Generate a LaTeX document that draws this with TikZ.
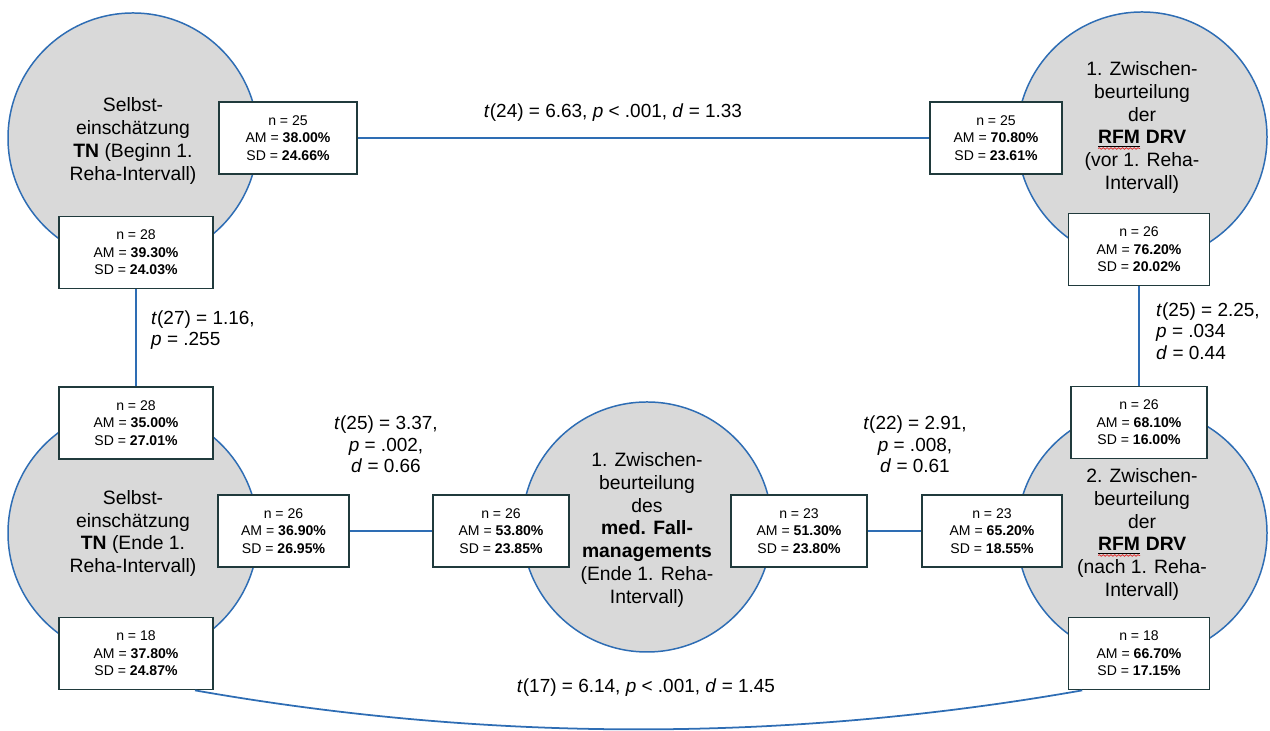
\documentclass[tikz,border=0pt]{standalone}
\usepackage{fontspec}
\setmainfont{Liberation Sans}
\usepackage{xcolor}
\usepackage{tikz}
\usetikzlibrary{
    positioning,
    calc,
    decorations.pathmorphing
}
\definecolor{phasefill}{HTML}{D9D9D9}
\definecolor{phaseborder}{HTML}{2E6DB4}
\definecolor{boxborder}{HTML}{203A3C}
\definecolor{linkblue}{HTML}{2E6DB4}
\definecolor{spellred}{HTML}{E03030}
\newcommand{\spellul}[1]{%
    \tikz[baseline=(w.base)]{%
        \node[inner sep=0pt, outer sep=0pt] (w) {#1};
        \draw[black, line width=0.5pt] ([yshift=-1.2pt]w.base west) -- ([yshift=-1.2pt]w.base east);
        \draw[spellred, line width=0.45pt, decorate,
              decoration={snake, amplitude=0.45pt, segment length=2.2pt}]
            ([yshift=-2.6pt]w.base west) -- ([yshift=-2.6pt]w.base east);}%
}
\tikzset{
    phase/.style={
        circle, draw=phaseborder, fill=phasefill,
        line width=0.85pt, minimum size=5cm, inner sep=0pt
    },
    phase text/.style={
        align=center, font=\fontsize{11}{13}\selectfont
    },
    statbox/.style={
        rectangle, draw=boxborder, fill=white,
        line width=1pt, minimum height=1.44cm,
        minimum width=#1, align=center, inner sep=1pt,
        font=\fontsize{8}{9.9}\selectfont
    },
    statbox/.default={2.72cm},
    link/.style={
        draw=linkblue, line width=1pt
    },
    test label/.style={
        font=\fontsize{10.8}{12.2}\selectfont
    },
}

\begin{document}
\begin{tikzpicture}

    \useasboundingbox (0,0) rectangle (25.4,14.62);

    % ── Phases ──
    \node[phase] (selfstart) at (2.66,11.86) {};
    \node[phase] (drvfirst)  at (22.84,11.88) {};
    \node[phase] (selfend)   at (2.66,3.96) {};
    \node[phase] (casemgmt)  at (12.94,4.08) {};
    \node[phase] (drvsecond) at (22.84,3.96) {};

    \node[phase text] (selfstarttxt) at (2.66,11.80)
        {Selbst-\\einschätzung\\\textbf{TN} (Beginn 1.\\Reha-Intervall)};
    \node[phase text] (drvfirsttxt) at (22.84,12.07)
        {1. Zwischen-\\beurteilung\\der\\\textbf{\spellul{RFM} DRV}\\(vor 1. Reha-\\Intervall)};
    \node[phase text] (selfendtxt) at (2.66,3.95)
        {Selbst-\\einschätzung\\\textbf{TN} (Ende 1.\\Reha-Intervall)};
    \node[phase text] (casemgmttxt) at (12.94,4.02)
        {1. Zwischen-\\beurteilung\\des\\\textbf{med. Fall-}\\\textbf{managements}\\(Ende 1. Reha-\\Intervall)};
    \node[phase text] (drvsecondtxt) at (22.84,3.93)
        {2. Zwischen-\\beurteilung\\der\\\textbf{\spellul{RFM} DRV}\\(nach 1. Reha-\\Intervall)};

    % ── Statistics boxes ──
    \node[statbox=2.76cm] (selfstartR) at (5.76,11.86)
        {n = 25\\AM = \textbf{38.00\%}\\SD = \textbf{24.66\%}};
    \node[statbox=3.08cm] (selfstartB) at (2.72,9.57)
        {n = 28\\AM = \textbf{39.30\%}\\SD = \textbf{24.03\%}};
    \node[statbox=2.64cm] (drvfirstL) at (19.92,11.86)
        {n = 25\\AM = \textbf{70.80\%}\\SD = \textbf{23.61\%}};
    \node[statbox=2.82cm] (drvfirstB) at (22.78,9.63)
        {n = 26\\AM = \textbf{76.20\%}\\SD = \textbf{20.02\%}};

    \node[statbox=3.08cm] (selfendT) at (2.72,6.16)
        {n = 28\\AM = \textbf{35.00\%}\\SD = \textbf{27.01\%}};
    \node[statbox=2.62cm] (selfendR) at (5.67,4.0)
        {n = 26\\AM = \textbf{36.90\%}\\SD = \textbf{26.95\%}};
    \node[statbox=3.08cm] (selfendB) at (2.72,1.55)
        {n = 18\\AM = \textbf{37.80\%}\\SD = \textbf{24.87\%}};

    \node[statbox] (casemgmtL) at (10.02,4.0)
        {n = 26\\AM = \textbf{53.80\%}\\SD = \textbf{23.85\%}};
    \node[statbox] (casemgmtR) at (15.98,4.0)
        {n = 23\\AM = \textbf{51.30\%}\\SD = \textbf{23.80\%}};

    \node[statbox=2.8cm] (drvsecondL) at (19.84,4.0)
        {n = 23\\AM = \textbf{65.20\%}\\SD = \textbf{18.55\%}};
    \node[statbox] (drvsecondT) at (22.78,6.17)
        {n = 26\\AM = \textbf{68.10\%}\\SD = \textbf{16.00\%}};
    \node[statbox=2.82cm] (drvsecondB) at (22.78,1.55)
        {n = 18\\AM = \textbf{66.70\%}\\SD = \textbf{17.15\%}};

    % ── Comparisons ──
    \draw[link] (selfstartR) -- (drvfirstL);
    \draw[link] (selfstartB) -- (selfendT);
    \draw[link] (drvfirstB) -- (drvsecondT);
    \draw[link] (selfendR) -- (casemgmtL);
    \draw[link] (casemgmtR) -- (drvsecondL);
    \draw[link] (selfendB.-32) .. controls +(5.9,-1.04) and +(-5.9,-1.04) .. (drvsecondB.-147);

    \node[test label] (testtop) at (12.26,12.36)
        {\textit{t}(24) = 6.63, \textit{p} < .001, \textit{d} = 1.33};
    \node[test label, align=left, anchor=west] (testleft) at (2.90,8.02)
        {\textit{t}(27) = 1.16,\\\textit{p} = .255};
    \node[test label, align=left, anchor=west] (testright) at (23.0,8.0)
        {\textit{t}(25) = 2.25,\\\textit{p} = .034\\\textit{d} = 0.44};
    \node[test label, align=center] (testmidL) at (7.72,5.73)
        {\textit{t}(25) = 3.37,\\\textit{p} = .002,\\\textit{d} = 0.66};
    \node[test label, align=center] (testmidR) at (18.30,5.73)
        {\textit{t}(22) = 2.91,\\\textit{p} = .008,\\\textit{d} = 0.61};
    \node[test label] (testbottom) at (12.92,0.86)
        {\textit{t}(17) = 6.14, \textit{p} < .001, \textit{d} = 1.45};

\end{tikzpicture}
\end{document}
